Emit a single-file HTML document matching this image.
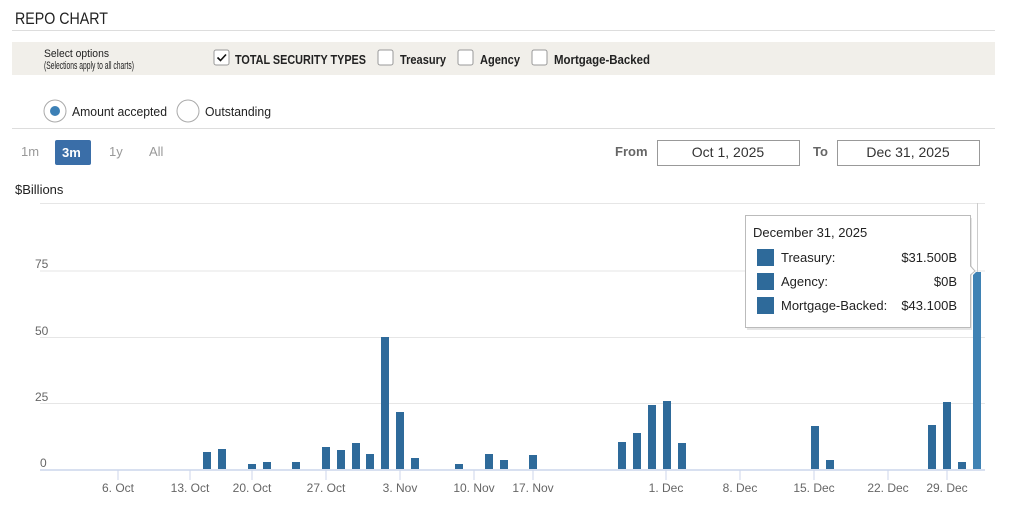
<!DOCTYPE html>
<html><head><meta charset="utf-8"><style>
html,body{margin:0;padding:0;background:#fff;width:1024px;height:515px;overflow:hidden}
svg{display:block}
.n{font-family:"Liberation Sans Narrow","Liberation Sans",sans-serif}
</style></head><body>
<svg width="1024" height="515" xmlns="http://www.w3.org/2000/svg" font-family="Liberation Sans, sans-serif">
<text x="15" y="24" font-size="17" fill="#222" class="n" textLength="93" lengthAdjust="spacingAndGlyphs">REPO CHART</text>
<line x1="12" y1="30.5" x2="995" y2="30.5" stroke="#ddd"/>
<rect x="12" y="42" width="983" height="33" fill="#f1efea"/>
<text x="44" y="57" font-size="11" fill="#222" class="n" textLength="65" lengthAdjust="spacingAndGlyphs">Select options</text>
<text x="44" y="69" font-size="11" fill="#222" class="n" textLength="90" lengthAdjust="spacingAndGlyphs">(Selections apply to all charts)</text>
<rect x="214" y="50" width="15" height="15" rx="2" fill="#fff" stroke="#999"/>
<path d="M217.5 57.5 l3 3 l5.5 -6" stroke="#111" stroke-width="1.6" fill="none"/>
<text x="235" y="64" font-size="13" font-weight="bold" fill="#222" class="n" textLength="131" lengthAdjust="spacingAndGlyphs">TOTAL SECURITY TYPES</text>
<rect x="378" y="50" width="15" height="15" rx="2" fill="#fff" stroke="#999"/>
<text x="400" y="64" font-size="13" font-weight="bold" fill="#222" class="n" textLength="46" lengthAdjust="spacingAndGlyphs">Treasury</text>
<rect x="458" y="50" width="15" height="15" rx="2" fill="#fff" stroke="#999"/>
<text x="480" y="64" font-size="13" font-weight="bold" fill="#222" class="n" textLength="40" lengthAdjust="spacingAndGlyphs">Agency</text>
<rect x="532" y="50" width="15" height="15" rx="2" fill="#fff" stroke="#999"/>
<text x="554" y="64" font-size="13" font-weight="bold" fill="#222" class="n" textLength="96" lengthAdjust="spacingAndGlyphs">Mortgage-Backed</text>
<circle cx="55" cy="111" r="11" fill="#fff" stroke="#aaa"/>
<circle cx="55" cy="111" r="5" fill="#3c80b6"/>
<text x="72" y="116" font-size="13" fill="#222" class="n" textLength="95" lengthAdjust="spacingAndGlyphs">Amount accepted</text>
<circle cx="188" cy="111" r="11" fill="#fff" stroke="#aaa"/>
<text x="205" y="116" font-size="13" fill="#222" class="n" textLength="66" lengthAdjust="spacingAndGlyphs">Outstanding</text>
<line x1="12" y1="128.5" x2="995" y2="128.5" stroke="#ddd"/>
<g font-size="13" fill="#999">
<text x="21" y="156">1m</text>
<rect x="55" y="140" width="36" height="25" rx="2" fill="#3a6ea8"/>
<text x="62" y="157" fill="#fff" font-weight="bold">3m</text>
<text x="109" y="156">1y</text>
<text x="149" y="156">All</text>
</g>
<text x="615" y="156" font-size="13" font-weight="bold" fill="#666">From</text>
<rect x="657.5" y="140.5" width="142" height="25" fill="#fff" stroke="#999"/>
<text x="728" y="157" font-size="14" fill="#333" text-anchor="middle">Oct 1, 2025</text>
<text x="813" y="156" font-size="13" font-weight="bold" fill="#666">To</text>
<rect x="837.5" y="140.5" width="142" height="25" fill="#fff" stroke="#999"/>
<text x="908" y="157" font-size="14" fill="#333" text-anchor="middle">Dec 31, 2025</text>
<text x="15" y="194" font-size="13" fill="#222">$Billions</text>
<g stroke="#e6e6e6">
<line x1="40" y1="203.5" x2="985" y2="203.5"/>
<line x1="40" y1="271" x2="985" y2="271"/>
<line x1="40" y1="337.5" x2="985" y2="337.5"/>
<line x1="40" y1="403.5" x2="985" y2="403.5"/>
</g>
<line x1="977.5" y1="203" x2="977.5" y2="469" stroke="#ccc"/>
<line x1="40" y1="470" x2="985" y2="470" stroke="#ccd6eb" stroke-width="1.5"/>
<g font-size="12" fill="#666">
<text x="35" y="268">75</text><text x="35" y="335">50</text><text x="35" y="401">25</text><text x="40" y="467">0</text>
</g>
<g stroke="#ccd6eb">
<line x1="118" y1="470" x2="118" y2="480"/><line x1="190" y1="470" x2="190" y2="480"/><line x1="252" y1="470" x2="252" y2="480"/><line x1="326" y1="470" x2="326" y2="480"/><line x1="400" y1="470" x2="400" y2="480"/><line x1="474" y1="470" x2="474" y2="480"/><line x1="533" y1="470" x2="533" y2="480"/><line x1="666" y1="470" x2="666" y2="480"/><line x1="740" y1="470" x2="740" y2="480"/><line x1="814" y1="470" x2="814" y2="480"/><line x1="888" y1="470" x2="888" y2="480"/><line x1="947" y1="470" x2="947" y2="480"/>
</g>
<g font-size="12" fill="#666" text-anchor="middle">
<text x="118" y="492">6. Oct</text><text x="190" y="492">13. Oct</text><text x="252" y="492">20. Oct</text><text x="326" y="492">27. Oct</text><text x="400" y="492">3. Nov</text><text x="474" y="492">10. Nov</text><text x="533" y="492">17. Nov</text><text x="666" y="492">1. Dec</text><text x="740" y="492">8. Dec</text><text x="814" y="492">15. Dec</text><text x="888" y="492">22. Dec</text><text x="947" y="492">29. Dec</text>
</g>
<g fill="#2e6a9a">
<rect x="203" y="452" width="8" height="17"/>
<rect x="218" y="449" width="8" height="20"/>
<rect x="248" y="464" width="8" height="5"/>
<rect x="263" y="462" width="8" height="7"/>
<rect x="292" y="462" width="8" height="7"/>
<rect x="322" y="447" width="8" height="22"/>
<rect x="337" y="450" width="8" height="19"/>
<rect x="352" y="443" width="8" height="26"/>
<rect x="366" y="454" width="8" height="15"/>
<rect x="381" y="337" width="8" height="132"/>
<rect x="396" y="412" width="8" height="57"/>
<rect x="411" y="458" width="8" height="11"/>
<rect x="455" y="464" width="8" height="5"/>
<rect x="485" y="454" width="8" height="15"/>
<rect x="500" y="460" width="8" height="9"/>
<rect x="529" y="455" width="8" height="14"/>
<rect x="618" y="442" width="8" height="27"/>
<rect x="633" y="433" width="8" height="36"/>
<rect x="648" y="405" width="8" height="64"/>
<rect x="663" y="401" width="8" height="68"/>
<rect x="678" y="443" width="8" height="26"/>
<rect x="811" y="426" width="8" height="43"/>
<rect x="826" y="460" width="8" height="9"/>
<rect x="928" y="425" width="8" height="44"/>
<rect x="943" y="402" width="8" height="67"/>
<rect x="958" y="462" width="8" height="7"/>
</g>
<path d="M973 275 l3 -3 h5 v197 h-8 z" fill="#3f82b4"/>
<rect x="747" y="218" width="225" height="112" fill="#999" opacity="0.25"/>
<path d="M745.5 215.5 H970.5 V266 L975 271 L970.5 275 V327.5 H745.5 Z" fill="#fff" stroke="#bbb"/>
<text x="753" y="237" font-size="13" fill="#222">December 31, 2025</text>
<rect x="757" y="249" width="17" height="17" fill="#2e6a9a"/>
<rect x="757" y="273" width="17" height="17" fill="#2e6a9a"/>
<rect x="757" y="297" width="17" height="17" fill="#2e6a9a"/>
<g font-size="13" fill="#222">
<text x="781" y="262">Treasury:</text><text x="957" y="262" text-anchor="end">$31.500B</text>
<text x="781" y="286">Agency:</text><text x="957" y="286" text-anchor="end">$0B</text>
<text x="781" y="310">Mortgage-Backed:</text><text x="957" y="310" text-anchor="end">$43.100B</text>
</g>
</svg>
</body></html>
